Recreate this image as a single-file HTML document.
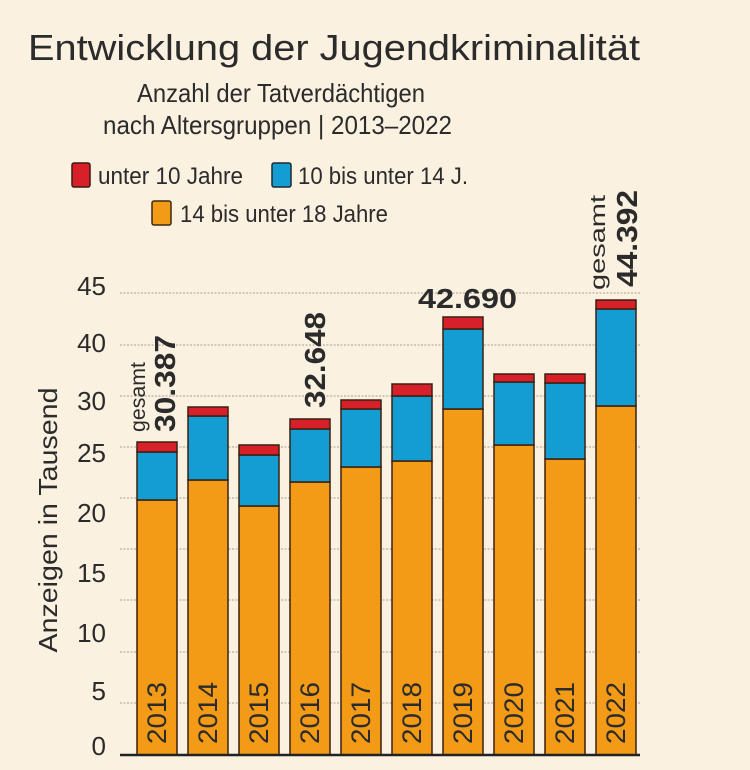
<!DOCTYPE html>
<html><head><meta charset="utf-8"><style>
html,body{margin:0;padding:0;background:#fbf1e1;}
svg{display:block;}
text{font-family:"Liberation Sans",sans-serif;fill:#2b2b2b;}
</style></head><body>
<svg width="750" height="770" viewBox="0 0 750 770" xmlns="http://www.w3.org/2000/svg">
<rect width="750" height="770" fill="#fbf1e1"/>
<text x="28" y="60" font-size="36" textLength="612" lengthAdjust="spacingAndGlyphs">Entwicklung der Jugendkriminalität</text>
<text x="137" y="102" font-size="26" textLength="288" lengthAdjust="spacingAndGlyphs">Anzahl der Tatverdächtigen</text>
<text x="103" y="134" font-size="26" textLength="349" lengthAdjust="spacingAndGlyphs">nach Altersgruppen | 2013–2022</text>
<rect x="72" y="163" width="18" height="24" rx="2" fill="#d7202a" stroke="#3a1a10" stroke-width="1.5"/>
<text x="98" y="184" font-size="24" textLength="145" lengthAdjust="spacingAndGlyphs">unter 10 Jahre</text>
<rect x="272" y="163" width="19" height="24" rx="2" fill="#139dd2" stroke="#1a2a30" stroke-width="1.5"/>
<text x="298" y="184" font-size="24" textLength="170" lengthAdjust="spacingAndGlyphs">10 bis unter 14 J.</text>
<rect x="152" y="201" width="19" height="24" rx="2" fill="#f39a17" stroke="#3a2a10" stroke-width="1.5"/>
<text x="180" y="222" font-size="24" textLength="208" lengthAdjust="spacingAndGlyphs">14 bis unter 18 Jahre</text>
<g stroke="#b8b0a4" stroke-width="1.2" stroke-dasharray="2,1.5">
<line x1="120" x2="640" y1="293" y2="293"/><line x1="120" x2="640" y1="345" y2="345"/>
<line x1="120" x2="640" y1="396" y2="396"/><line x1="120" x2="640" y1="447" y2="447"/>
<line x1="120" x2="640" y1="498" y2="498"/><line x1="120" x2="640" y1="549" y2="549"/>
<line x1="120" x2="640" y1="600" y2="600"/><line x1="120" x2="640" y1="652" y2="652"/>
<line x1="120" x2="640" y1="703" y2="703"/>
</g>
<g font-size="26" text-anchor="end" fill="#333">
<text x="106" y="295">45</text><text x="106" y="352">40</text><text x="106" y="410">30</text>
<text x="106" y="462">25</text><text x="106" y="522">20</text><text x="106" y="582">15</text>
<text x="106" y="642">10</text><text x="106" y="700">5</text><text x="106" y="755">0</text>
</g>
<text transform="translate(57,520) rotate(-90)" font-size="26" text-anchor="middle" textLength="265" lengthAdjust="spacingAndGlyphs">Anzeigen in Tausend</text>
<g stroke="#3a2010" stroke-width="1.5">
<rect x="137" y="500" width="40" height="255" fill="#f39a17"/><rect x="137" y="452" width="40" height="48" fill="#139dd2"/><rect x="137" y="442" width="40" height="10" fill="#d7202a"/>
<rect x="188" y="480" width="40" height="275" fill="#f39a17"/><rect x="188" y="416" width="40" height="64" fill="#139dd2"/><rect x="188" y="407" width="40" height="9" fill="#d7202a"/>
<rect x="239" y="506" width="40" height="249" fill="#f39a17"/><rect x="239" y="455" width="40" height="51" fill="#139dd2"/><rect x="239" y="445" width="40" height="10" fill="#d7202a"/>
<rect x="290" y="482" width="40" height="273" fill="#f39a17"/><rect x="290" y="429" width="40" height="53" fill="#139dd2"/><rect x="290" y="419" width="40" height="10" fill="#d7202a"/>
<rect x="341" y="467" width="40" height="288" fill="#f39a17"/><rect x="341" y="409" width="40" height="58" fill="#139dd2"/><rect x="341" y="400" width="40" height="9" fill="#d7202a"/>
<rect x="392" y="461" width="40" height="294" fill="#f39a17"/><rect x="392" y="396" width="40" height="65" fill="#139dd2"/><rect x="392" y="384" width="40" height="12" fill="#d7202a"/>
<rect x="443" y="409" width="40" height="346" fill="#f39a17"/><rect x="443" y="329" width="40" height="80" fill="#139dd2"/><rect x="443" y="317" width="40" height="12" fill="#d7202a"/>
<rect x="494" y="445" width="40" height="310" fill="#f39a17"/><rect x="494" y="382" width="40" height="63" fill="#139dd2"/><rect x="494" y="374" width="40" height="8" fill="#d7202a"/>
<rect x="545" y="459" width="40" height="296" fill="#f39a17"/><rect x="545" y="383" width="40" height="76" fill="#139dd2"/><rect x="545" y="374" width="40" height="9" fill="#d7202a"/>
<rect x="596" y="406" width="40" height="349" fill="#f39a17"/><rect x="596" y="309" width="40" height="97" fill="#139dd2"/><rect x="596" y="300" width="40" height="9" fill="#d7202a"/>
</g>
<line x1="120" x2="640" y1="755" y2="755" stroke="#222" stroke-width="2.5"/>
<g font-size="27" fill="#3a2a10">
<text transform="translate(166,744) rotate(-90)" textLength="62" lengthAdjust="spacingAndGlyphs">2013</text>
<text transform="translate(217,744) rotate(-90)" textLength="62" lengthAdjust="spacingAndGlyphs">2014</text>
<text transform="translate(268,744) rotate(-90)" textLength="62" lengthAdjust="spacingAndGlyphs">2015</text>
<text transform="translate(319,744) rotate(-90)" textLength="62" lengthAdjust="spacingAndGlyphs">2016</text>
<text transform="translate(370,744) rotate(-90)" textLength="62" lengthAdjust="spacingAndGlyphs">2017</text>
<text transform="translate(421,744) rotate(-90)" textLength="62" lengthAdjust="spacingAndGlyphs">2018</text>
<text transform="translate(472,744) rotate(-90)" textLength="62" lengthAdjust="spacingAndGlyphs">2019</text>
<text transform="translate(523,744) rotate(-90)" textLength="62" lengthAdjust="spacingAndGlyphs">2020</text>
<text transform="translate(574,744) rotate(-90)" textLength="62" lengthAdjust="spacingAndGlyphs">2021</text>
<text transform="translate(625,744) rotate(-90)" textLength="62" lengthAdjust="spacingAndGlyphs">2022</text>
</g>
<text transform="translate(145,432) rotate(-90)" font-size="21" textLength="70" lengthAdjust="spacingAndGlyphs">gesamt</text>
<text transform="translate(175,432) rotate(-90)" font-size="29" font-weight="bold" fill="#1a1a1a" textLength="97" lengthAdjust="spacingAndGlyphs">30.387</text>
<text transform="translate(325,408) rotate(-90)" font-size="29" font-weight="bold" fill="#1a1a1a" textLength="96" lengthAdjust="spacingAndGlyphs">32.648</text>
<text x="418" y="308" font-size="28" font-weight="bold" fill="#1a1a1a" textLength="99" lengthAdjust="spacingAndGlyphs">42.690</text>
<text transform="translate(605,290) rotate(-90)" font-size="21" textLength="95" lengthAdjust="spacingAndGlyphs">gesamt</text>
<text transform="translate(637,287) rotate(-90)" font-size="29" font-weight="bold" fill="#1a1a1a" textLength="97" lengthAdjust="spacingAndGlyphs">44.392</text>
</svg>
</body></html>
